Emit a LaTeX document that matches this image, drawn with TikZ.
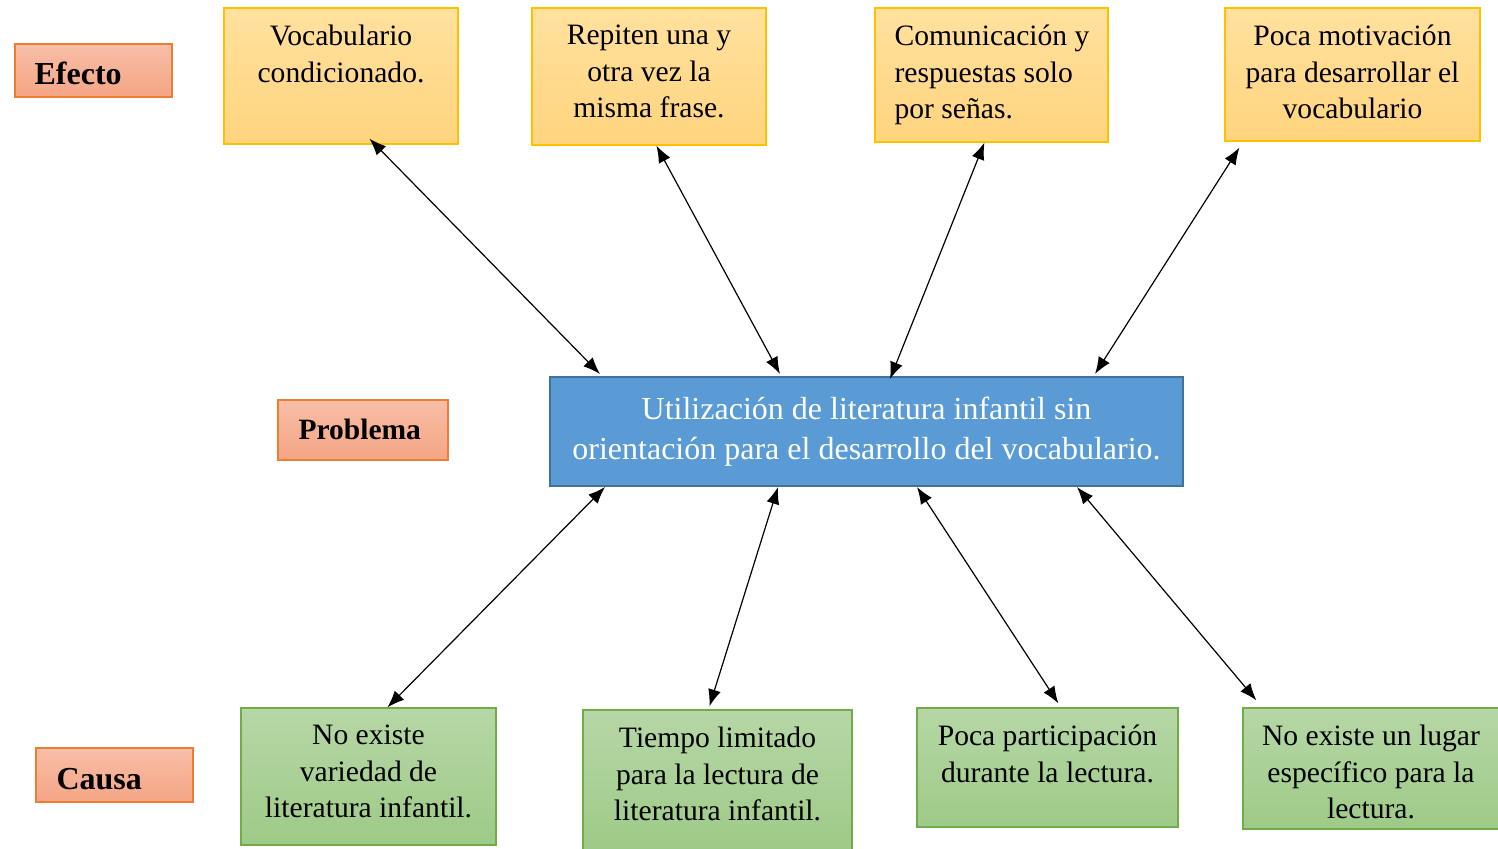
\documentclass[tikz,border=0pt]{standalone}
\usepackage{fontspec}
\setmainfont{Liberation Serif}
\usetikzlibrary{arrows.meta}
\definecolor{ytop}{RGB}{255,225,158}
\definecolor{ybot}{RGB}{255,212,126}
\definecolor{yline}{RGB}{255,192,0}
\definecolor{stop}{RGB}{248,190,167}
\definecolor{sbot}{RGB}{244,165,133}
\definecolor{sline}{RGB}{237,125,49}
\definecolor{gtop}{RGB}{182,215,166}
\definecolor{gbot}{RGB}{158,202,135}
\definecolor{gline}{RGB}{112,173,71}
\definecolor{bfill}{RGB}{91,155,213}
\definecolor{bline}{RGB}{65,113,156}
\tikzset{
  ybox/.style={draw=yline, line width=1.2pt, top color=ytop, bottom color=ybot, inner sep=0pt},
  gbox/.style={draw=gline, line width=1.2pt, top color=gtop, bottom color=gbot, inner sep=0pt},
  sbox/.style={draw=sline, line width=1.2pt, top color=stop, bottom color=sbot, inner sep=0pt},
  bbox/.style={draw=bline, line width=2pt, fill=bfill, inner sep=0pt},
  txt/.style={inner sep=0pt, align=center, font=\fontsize{29.6}{36.5}\selectfont},
  lbl/.style={inner sep=0pt, anchor=west, font=\fontsize{32}{36}\selectfont\bfseries},
  link/.style={line width=1.2pt, {Latex[length=17pt,width=13pt]}-{Latex[length=17pt,width=13pt]}}
}
\begin{document}
\begin{tikzpicture}[x=1pt,y=-1pt]
\useasboundingbox (0,0) rectangle (1498,848);
% label boxes
\node[sbox, minimum width=157pt, minimum height=53pt] (efecto) at (93.5,70.5) {};
\node[lbl] (efectot) at ([xshift=20pt,yshift=-3pt]efecto.west) {Efecto};
\node[sbox, minimum width=170pt, minimum height=60pt] (problema) at (363,430) {};
\node[lbl, font=\fontsize{29.5}{36}\selectfont\bfseries] (problemat) at ([xshift=21pt,yshift=1pt]problema.west) {Problema};
\node[sbox, minimum width=157pt, minimum height=54pt] (causa) at (114.5,775) {};
\node[lbl] (causat) at ([xshift=21pt,yshift=-4pt]causa.west) {Causa};
% effect boxes
\node[ybox, minimum width=234pt, minimum height=136pt] (y1) at (341,76) {};
\node[txt, anchor=north] (y1t) at ([yshift=-17.5pt]y1.north) {Vocabulario\\condicionado.};
\node[ybox, minimum width=234pt, minimum height=137pt] (y2) at (649,76.5) {};
\node[txt, anchor=north] (y2t) at ([yshift=-17.5pt]y2.north) {Repiten una y\\otra vez la\\misma frase.};
\node[ybox, minimum width=233pt, minimum height=134pt] (y3) at (991.5,75) {};
\node[txt, anchor=north west, align=left] (y3t) at ([xshift=20pt,yshift=-17.5pt]y3.north west) {Comunicación y\\respuestas solo\\por señas.};
\node[ybox, minimum width=255pt, minimum height=133pt] (y4) at (1352.5,74.5) {};
\node[txt, anchor=north] (y4t) at ([yshift=-17.5pt]y4.north) {Poca motivación\\para desarrollar el\\vocabulario};
% problem box
\node[bbox, minimum width=633pt, minimum height=109pt, text=white, txt, font=\fontsize{32}{40}\selectfont] (prob) at (866.5,431.5) {Utilización de literatura infantil sin\\orientación para el desarrollo del vocabulario.};
% cause boxes
\node[gbox, minimum width=255pt, minimum height=137pt] (g1) at (368.5,776.5) {};
\node[txt, anchor=north] (g1t) at ([yshift=-17.5pt]g1.north) {No existe\\variedad de\\literatura infantil.};
\node[gbox, minimum width=269pt, minimum height=140pt] (g2) at (717.5,780) {};
\node[txt, anchor=north] (g2t) at ([yshift=-17.5pt]g2.north) {Tiempo limitado\\para la lectura de\\literatura infantil.};
\node[gbox, minimum width=261pt, minimum height=119pt] (g3) at (1047.5,767.5) {};
\node[txt, anchor=north] (g3t) at ([yshift=-17.5pt]g3.north) {Poca participación\\durante la lectura.};
\node[gbox, minimum width=256pt, minimum height=121pt] (g4) at (1371,768.5) {};
\node[txt, anchor=north] (g4t) at ([yshift=-17.5pt]g4.north) {No existe un lugar\\específico para la\\lectura.};
% connectors
\draw[link] ([xshift=146pt,yshift=6pt]y1.south west) -- ([xshift=51pt,yshift=2pt]prob.north west);
\draw[link] ([xshift=125pt]y2.south west) -- ([xshift=231pt,yshift=2pt]prob.north west);
\draw[link] ([xshift=110pt]y3.south west) -- ([xshift=341pt,yshift=-3pt]prob.north west);
\draw[link] ([xshift=15pt,yshift=-6pt]y4.south west) -- ([xshift=546pt,yshift=2pt]prob.north west);
\draw[link] ([xshift=56pt]prob.south west) -- ([xshift=147pt]g1.north west);
\draw[link] ([xshift=229pt]prob.south west) -- ([xshift=127pt,yshift=3pt]g2.north west);
\draw[link] ([xshift=368pt]prob.south west) -- ([xshift=142pt,yshift=4pt]g3.north west);
\draw[link] ([xshift=528pt]prob.south west) -- ([xshift=14pt,yshift=7pt]g4.north west);
\end{tikzpicture}
\end{document}
